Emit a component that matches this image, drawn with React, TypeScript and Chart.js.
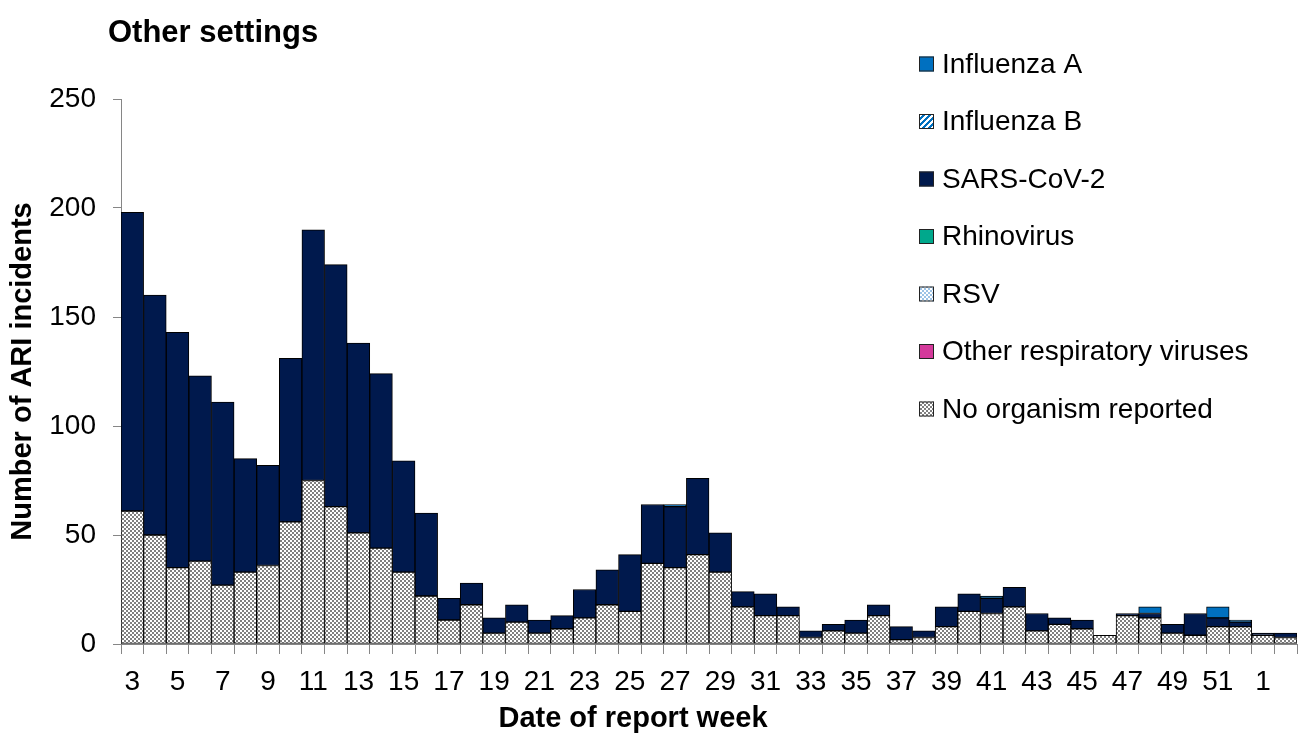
import React, { useEffect, useRef } from "react";
import { Chart, registerables } from "chart.js";

Chart.register(...registerables);

const chartTitle = "Other settings";
const xAxisTitle = "Date of report week";
const yAxisTitle = "Number of ARI incidents";

const weeks = [
  "3", "4", "5", "6", "7", "8", "9", "10", "11", "12", "13", "14", "15", "16", "17", "18", "19",
  "20", "21", "22", "23", "24", "25", "26", "27", "28", "29", "30", "31", "32", "33", "34", "35",
  "36", "37", "38", "39", "40", "41", "42", "43", "44", "45", "46", "47", "48", "49", "50", "51",
  "52", "1", "2",
];

const noOrganism = [
  61, 50, 35, 38, 27, 33, 36, 56, 75, 63, 51, 44, 33, 22, 11, 18, 5,
  10, 5, 7, 12, 18, 15, 37, 35, 41, 33, 17, 13, 13, 3, 6, 5,
  13, 2, 3, 8, 15, 14, 17, 6, 9, 7, 4, 13, 12, 5, 4, 8,
  8, 4, 3,
];
const otherViruses = new Array(52).fill(0);
const rsv = new Array(52).fill(0);
const rhinovirus = new Array(52).fill(0);
const sarsCoV2 = [
  137, 110, 108, 85, 84, 52, 46, 75, 115, 111, 87, 80, 51, 38, 10, 10, 7,
  8, 6, 6, 13, 16, 26, 27, 28, 35, 18, 7, 10, 4, 3, 3, 6,
  5, 6, 3, 9, 8, 7, 9, 8, 3, 4, 0, 1, 2, 4, 10, 4,
  2, 1, 2,
];
const influenzaB = new Array(52).fill(0);
const influenzaA = [
  0, 0, 0, 0, 0, 0, 0, 0, 0, 0, 0, 0, 0, 0, 0, 0, 0,
  0, 0, 0, 0, 0, 0, 0, 1, 0, 0, 0, 0, 0, 0, 0, 0,
  0, 0, 0, 0, 0, 1, 0, 0, 0, 0, 0, 0, 3, 0, 0, 5,
  1, 0, 0,
];

const yTicks = [0, 50, 100, 150, 200, 250];

const FONT = '"Liberation Sans", Arial, Helvetica, sans-serif';

function makePattern(kind: string, fg: string, bg: string): CanvasPattern | string {
  const c = document.createElement("canvas");
  const size = kind === "diag" ? 6 : 4;
  c.width = size;
  c.height = size;
  const g = c.getContext("2d");
  if (!g) return fg;
  g.fillStyle = bg;
  g.fillRect(0, 0, size, size);
  g.fillStyle = fg;
  if (kind === "checker") {
    g.fillRect(0, 0, 2, 2);
    g.fillRect(2, 2, 2, 2);
  } else {
    for (let i = 0; i < size; i++) {
      const x = size - 1 - i;
      g.fillRect(x, i, 3, 1);
      if (x + 3 > size) g.fillRect(x - size, i, 3, 1);
    }
  }
  const p = g.createPattern(c, "repeat");
  return p || fg;
}

export default function App() {
  const ref = useRef<HTMLCanvasElement | null>(null);

  useEffect(() => {
    document.body.style.margin = "0";
    const canvas = ref.current;
    if (!canvas) return;

    const nz = (arr: number[]) => arr.map((v) => (v === 0 ? null : v));

    const seriesDefs = [
      { label: "No organism reported", data: noOrganism, bg: makePattern("checker", "#808080", "#ffffff") },
      { label: "Other respiratory viruses", data: otherViruses, bg: "#D4399B" },
      { label: "RSV", data: rsv, bg: makePattern("checker", "#9DC3E6", "#ffffff") },
      { label: "Rhinovirus", data: rhinovirus, bg: "#00A88C" },
      { label: "SARS-CoV-2", data: sarsCoV2, bg: "#00194D" },
      { label: "Influenza B", data: influenzaB, bg: makePattern("diag", "#0070C0", "#ffffff") },
      { label: "Influenza A", data: influenzaA, bg: "#0070C0" },
    ];

    const textPlugin = {
      id: "textAndLegend",
      afterDraw(chart: any) {
        const ctx = chart.ctx;
        ctx.save();
        ctx.fillStyle = "#000";
        ctx.font = `bold 31px ${FONT}`;
        ctx.textAlign = "left";
        ctx.textBaseline = "alphabetic";
        ctx.fillText(chartTitle, 108, 42);

        ctx.font = `bold 29px ${FONT}`;
        ctx.textAlign = "center";
        ctx.textBaseline = "middle";
        ctx.fillText(xAxisTitle, 633, 719);

        ctx.save();
        ctx.translate(23, (chart.chartArea.top + chart.chartArea.bottom) / 2);
        ctx.rotate(-Math.PI / 2);
        ctx.fillText(yAxisTitle, 0, 0);
        ctx.restore();

        const ds = chart.data.datasets.slice().reverse();
        ctx.font = `28px ${FONT}`;
        ctx.textAlign = "left";
        ctx.textBaseline = "middle";
        ds.forEach((d: any, i: number) => {
          const cy = 64 + i * 57.5;
          ctx.fillStyle = d.backgroundColor;
          ctx.fillRect(919, cy - 7.5, 15, 15);
          ctx.strokeStyle = "#222";
          ctx.lineWidth = 1;
          ctx.strokeRect(919.5, cy - 7, 14, 14);
          ctx.fillStyle = "#000";
          ctx.fillText(d.label, 942, cy + 1);
        });
        ctx.restore();
      },
    };

    const chart = new Chart(canvas, {
      type: "bar",
      data: {
        labels: weeks,
        datasets: seriesDefs.map((s) => ({
          label: s.label,
          data: nz(s.data),
          backgroundColor: s.bg as any,
          borderColor: "#000000",
          borderWidth: 1,
          borderSkipped: false,
          categoryPercentage: 1,
          barPercentage: 1,
        })),
      },
      options: {
        responsive: false,
        animation: false,
        layout: { padding: { left: 0, top: 99, right: 3, bottom: 0 } },
        plugins: {
          legend: { display: false },
          title: { display: false },
          tooltip: { enabled: false },
        },
        scales: {
          x: {
            stacked: true,
            grid: {
              display: true,
              drawOnChartArea: false,
              drawTicks: true,
              tickLength: 10,
              color: "#868686",
              offset: true,
            },
            border: { display: true, color: "#868686", width: 1 },
            ticks: {
              autoSkip: false,
              maxRotation: 0,
              minRotation: 0,
              padding: 11,
              color: "#000",
              font: { family: FONT, size: 28 },
              callback: (_v: any, idx: number) => (idx % 2 === 0 ? weeks[idx] : ""),
            },
            afterFit: (scale: any) => {
              scale.height = 94;
            },
          },
          y: {
            stacked: true,
            min: yTicks[0],
            max: yTicks[yTicks.length - 1],
            grid: {
              display: true,
              drawOnChartArea: false,
              drawTicks: true,
              tickLength: 8,
              color: "#868686",
            },
            border: { display: true, color: "#868686", width: 1 },
            ticks: {
              stepSize: 50,
              padding: 17,
              color: "#000",
              font: { family: FONT, size: 28 },
            },
            afterFit: (scale: any) => {
              scale.width = 121;
            },
          },
        },
      },
      plugins: [textPlugin],
    });

    return () => {
      chart.destroy();
    };
  }, []);

  return (
    <div style={{ width: 1300, height: 738, background: "#fff" }}>
      <canvas ref={ref} width={1300} height={738} />
    </div>
  );
}
